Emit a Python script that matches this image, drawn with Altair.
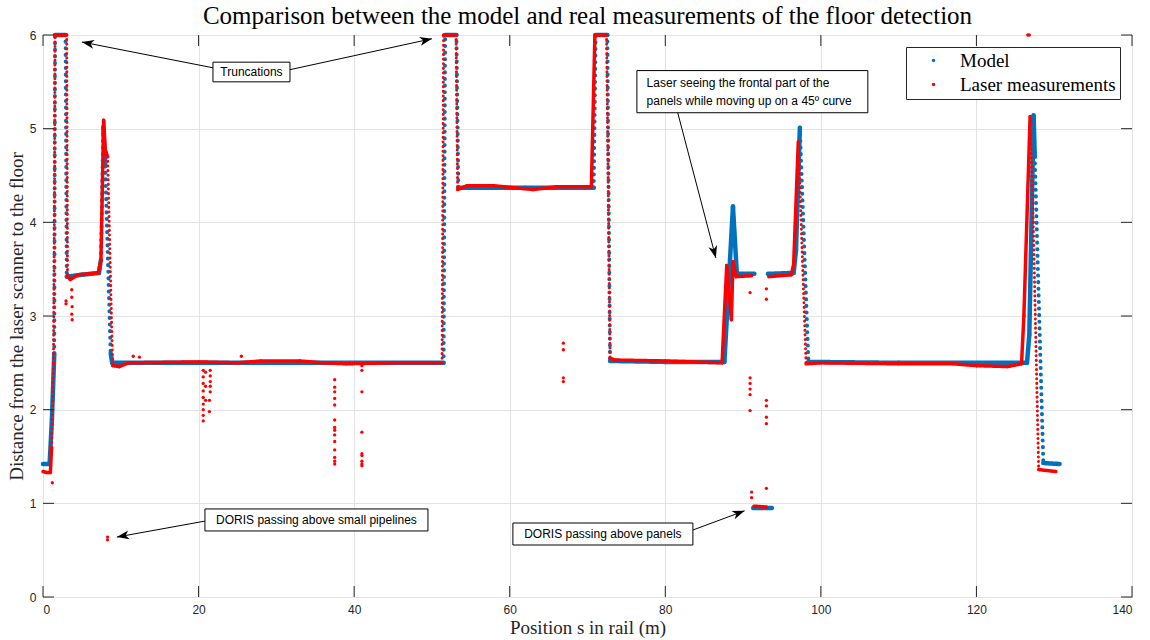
import math
import altair as alt
import pandas as pd

# ---------------- data ----------------
# Model (blue): breakpoints (position s in m, distance in m), three pieces
model_s_a = [0, 0.85, 1.15, 1.45, 1.55, 2.9, 3.05, 5.0, 7.2, 7.45, 7.75, 8.0, 8.7, 8.9,
             30.0, 51.5, 51.7, 53.15, 53.4, 62.0, 70.8, 71.05, 72.55, 72.9, 80.0,
             87.6, 88.7, 89.2, 91.45]
model_v_a = [1.42, 1.42, 1.9, 2.6, 6.0, 6.0, 3.42, 3.44, 3.46, 3.6, 5.02, 4.6, 2.6, 2.5,
             2.5, 2.5, 6.0, 6.0, 4.37, 4.37, 4.37, 6.0, 6.0, 2.52, 2.51,
             2.51, 4.17, 3.45, 3.45]
model_s_b = [91.3, 93.7]
model_v_b = [0.95, 0.95]
model_s_c = [93.2, 96.5, 96.8, 97.3, 98.4, 110.0, 126.5, 126.8, 127.35, 127.5, 128.6, 130.7]
model_v_c = [3.45, 3.46, 3.7, 5.01, 2.51, 2.5, 2.5, 2.8, 5.14, 4.7, 1.43, 1.42]

# Laser measurements (red): breakpoints, three pieces
laser_s_a = [0, 0.4, 0.95, 1.1, 1.35, 1.5, 1.55, 3.05, 3.15, 3.5,
             4.5, 7.1, 7.45, 7.8, 8.0, 8.3, 8.95, 9.8, 11.0, 20.0,
             25.0, 28.0, 33.0, 36.0, 39.0, 45.0, 51.3, 51.5, 53.1, 53.3,
             54.5, 58.0, 60.5, 63.0, 66.0, 70.5, 70.95, 72.45, 72.9, 73.5,
             80.0, 87.3, 87.9, 88.5, 88.7, 89.1, 91.1]
laser_v_a = [1.34, 1.33, 1.33, 1.6, 2.5, 4.55, 6.0, 6.0, 3.42, 3.39,
             3.44, 3.46, 3.6, 5.09, 4.78, 4.7, 2.47, 2.46, 2.5, 2.51,
             2.5, 2.52, 2.52, 2.5, 2.49, 2.5, 2.5, 6.0, 6.0, 4.35,
             4.39, 4.39, 4.37, 4.35, 4.38, 4.38, 6.0, 6.0, 2.55, 2.53,
             2.52, 2.5, 3.54, 2.96, 3.58, 3.42, 3.43]
laser_s_b = [91.4, 93.0]
laser_v_b = [0.97, 0.96]
laser_s_c = [93.3, 96.2, 96.5, 97.1, 98.1, 100.0, 110.0, 117.0, 120.0, 124.0,
             125.8, 126.1, 126.9, 127.3, 128.0, 130.2]
laser_v_c = [3.42, 3.44, 3.55, 4.86, 2.49, 2.5, 2.49, 2.49, 2.47, 2.46,
             2.49, 3.0, 5.13, 4.0, 1.36, 1.34]

# Isolated laser points (outliers)
laser_dots_s = [1.2, 2.96, 2.96, 3.7, 3.7, 3.75, 3.7, 3.75, 8.3, 8.3,
                11.6, 12.4, 25.5,
                20.6, 20.6, 20.6, 20.6, 20.6, 20.6, 20.6, 20.6, 20.6,
                20.9, 20.9, 20.9,
                21.5, 21.5, 21.5, 21.5, 21.5, 21.4, 21.4,
                37.5, 37.5, 37.5, 37.5, 37.5, 37.5, 37.5, 37.5, 37.5, 37.5, 37.5, 37.5, 37.5, 37.5,
                41.0, 41.0, 41.0, 41.0, 41.0, 41.0, 41.0, 41.0, 41.0,
                66.9, 66.9, 66.9, 66.9,
                90.9, 90.9, 90.9, 90.9, 90.9, 90.9, 91.1, 91.1,
                93.0, 93.0, 93.0, 93.0, 93.0, 93.0, 93.0,
                126.6, 126.8]
laser_dots_v = [1.22, 3.13, 3.16, 3.28, 3.2, 3.1, 3.02, 2.96, 0.64, 0.61,
                2.57, 2.56, 2.57,
                2.42, 2.35, 2.28, 2.2, 2.13, 2.06, 2.0, 1.94, 1.88,
                2.4, 2.25, 2.1,
                2.42, 2.36, 2.3, 2.25, 2.19, 2.1, 1.98,
                2.32, 2.24, 2.19, 2.12, 2.05, 1.89, 1.81, 1.78, 1.73, 1.66, 1.57, 1.49, 1.45, 1.42,
                2.47, 2.42, 2.19, 1.76, 1.53, 1.51, 1.45, 1.42, 1.40,
                2.71, 2.64, 2.34, 2.30,
                3.25, 2.34, 2.28, 2.22, 2.16, 1.99, 1.12, 1.06,
                3.29, 3.18, 2.10, 2.04, 1.92, 1.85, 1.16,
                6.0, 6.0]

series_names = ["Model", "Laser measurements"]
x_ticks = [0, 20, 40, 60, 80, 100, 120, 140]
y_ticks = [0, 1, 2, 3, 4, 5, 6]

# Annotations: text, box extents (s, s2, v, v2), text anchor, arrows
ann_text = ["Truncations", "DORIS passing above small pipelines", "DORIS passing above panels",
            "Laser seeing the frontal part of the\npanels while moving up on a 45º curve"]
ann_box_s = [21.85, 20.82, 60.41, 76.35]
ann_box_s2 = [31.75, 49.49, 83.55, 106.04]
ann_box_v = [5.50, 0.705, 0.555, 5.17]
ann_box_v2 = [5.71, 0.94, 0.79, 5.62]
ann_text_s = [26.8, 35.15, 71.98, 77.6]
ann_text_v = [5.605, 0.8225, 0.6725, 5.49]
ann_align = ["center", "center", "center", "left"]

arrow_from_s = [21.85, 31.75, 20.8, 83.55, 81.6]
arrow_from_v = [5.65, 5.63, 0.81, 0.715, 5.17]
arrow_to_s = [5.0, 50.0, 9.5, 90.2, 86.5]
arrow_to_v = [5.925, 5.96, 0.64, 0.92, 3.62]

# ---------------- styling ----------------
BLUE = "#0072BD"
RED = "#FF0000"
AXC = "#262626"
W, H = 1089, 562
S_MAX, V_MAX = 140, 6
SERIF = "Liberation Serif"
SANS = "Liberation Sans"

XS = alt.Scale(domain=[0, S_MAX], nice=False, zero=False)
YS = alt.Scale(domain=[0, V_MAX], nice=False, zero=False)

X_AX = alt.Axis(values=x_ticks, grid=True, gridColor="#E3E3E3", gridWidth=1, tickSize=0,
                domain=False, labelFont=SANS, labelFontSize=12, labelColor=AXC, labelPadding=7,
                title="Position s in rail (m)", titleFont=SERIF, titleFontSize=19,
                titleFontWeight="normal", titleColor=AXC, titlePadding=3)
Y_AX = alt.Axis(values=y_ticks, grid=True, gridColor="#E3E3E3", gridWidth=1, tickSize=0,
                domain=False, labelFont=SANS, labelFontSize=12, labelColor=AXC, labelPadding=7,
                title="Distance from the laser scanner to the floor", titleFont=SERIF,
                titleFontSize=19, titleFontWeight="normal", titleColor=AXC, titlePadding=3)


def build_segments(pieces, tag):
    rows = []
    for s_list, v_list in pieces:
        for i in range(len(s_list) - 1):
            s0, s1 = s_list[i], s_list[i + 1]
            v0, v1 = v_list[i], v_list[i + 1]
            dyp = abs(v1 - v0) * H / V_MAX
            dotted = dyp > 80 and (v1 < v0 or abs(s1 - s0) < 0.3)
            rows.append({"s": s0, "v": v0, "s2": s1, "v2": v1,
                         "style": ("dot_" if dotted else "solid_") + tag})
    return pd.DataFrame(rows)


model_df = build_segments([(model_s_a, model_v_a), (model_s_b, model_v_b),
                           (model_s_c, model_v_c)], "m")
laser_df = build_segments([(laser_s_a, laser_v_a), (laser_s_b, laser_v_b),
                           (laser_s_c, laser_v_c)], "l")

STYLE_DOM = ["solid_m", "dot_m", "solid_l", "dot_l"]
WIDTH_SC = alt.Scale(domain=STYLE_DOM, range=[4.5, 3, 4, 3.2])
DASH_SC = alt.Scale(domain=STYLE_DOM, range=[[1, 0], [0.1, 6.5], [1, 0], [0.1, 4.5]])


def trace(df, color):
    return alt.Chart(df).mark_rule(color=color, strokeCap="round").encode(
        x=alt.X("s:Q", scale=XS, axis=X_AX), x2="s2:Q",
        y=alt.Y("v:Q", scale=YS, axis=Y_AX), y2="v2:Q",
        strokeWidth=alt.StrokeWidth("style:N", scale=WIDTH_SC, legend=None),
        strokeDash=alt.StrokeDash("style:N", scale=DASH_SC, legend=None),
    )


dots_df = pd.DataFrame({"s": laser_dots_s, "v": laser_dots_v,
                        "series": ["Laser measurements"] * len(laser_dots_s)})
dots = alt.Chart(dots_df).mark_circle(size=11, opacity=1).encode(
    x=alt.X("s:Q", scale=XS, axis=X_AX),
    y=alt.Y("v:Q", scale=YS, axis=Y_AX),
    color=alt.Color("series:N", scale=alt.Scale(domain=series_names, range=[BLUE, RED]),
                    legend=alt.Legend(title=None, orient="top-right", offset=12,
                                      labelFont=SERIF, labelFontSize=19, labelColor="#000",
                                      symbolType="circle", symbolSize=12,
                                      symbolOffset=14, labelOffset=17,
                                      padding=4, rowPadding=4,
                                      strokeColor=AXC, fillColor="white",
                                      labelLimit=400)),
)

# inward tick marks on all four sides
xt_df = pd.DataFrame({"s": x_ticks})
yt_df = pd.DataFrame({"v": y_ticks})
TL = 11
ticks = [
    alt.Chart(xt_df).mark_rule(color=AXC, strokeWidth=1).encode(
        x=alt.X("s:Q", scale=XS, axis=X_AX), y=alt.value(H), y2=alt.value(H - TL)),
    alt.Chart(xt_df).mark_rule(color=AXC, strokeWidth=1).encode(
        x=alt.X("s:Q", scale=XS, axis=X_AX), y=alt.value(0), y2=alt.value(TL)),
    alt.Chart(yt_df).mark_rule(color=AXC, strokeWidth=1).encode(
        y=alt.Y("v:Q", scale=YS, axis=Y_AX), x=alt.value(0), x2=alt.value(TL)),
    alt.Chart(yt_df).mark_rule(color=AXC, strokeWidth=1).encode(
        y=alt.Y("v:Q", scale=YS, axis=Y_AX), x=alt.value(W), x2=alt.value(W - TL)),
]

# annotations
box_df = pd.DataFrame({"s": ann_box_s, "s2": ann_box_s2, "v": ann_box_v, "v2": ann_box_v2})
boxes = alt.Chart(box_df).mark_rect(fill="white", stroke="black", strokeWidth=1).encode(
    x=alt.X("s:Q", scale=XS, axis=X_AX), x2="s2:Q",
    y=alt.Y("v:Q", scale=YS, axis=Y_AX), y2="v2:Q")

texts = []
for t, ts, tv, al in zip(ann_text, ann_text_s, ann_text_v, ann_align):
    tdf = pd.DataFrame({"s": [ts], "v": [tv], "t": [t]})
    texts.append(alt.Chart(tdf).mark_text(font=SANS, fontSize=12, color="black", align=al,
                                          baseline="middle", lineBreak="\n", lineHeight=18).encode(
        x=alt.X("s:Q", scale=XS, axis=X_AX), y=alt.Y("v:Q", scale=YS, axis=Y_AX), text="t:N"))

px_s = W / S_MAX
px_v = H / V_MAX
angles = []
for fs, fv, ts, tv in zip(arrow_from_s, arrow_from_v, arrow_to_s, arrow_to_v):
    dx = (ts - fs) * px_s
    dy = -(tv - fv) * px_v
    angles.append(math.degrees(math.atan2(dy, dx)) % 360)
arr_df = pd.DataFrame({"s": arrow_from_s, "v": arrow_from_v, "s2": arrow_to_s, "v2": arrow_to_v,
                       "ang": angles})
shafts = alt.Chart(arr_df).mark_rule(color="black", strokeWidth=1).encode(
    x=alt.X("s:Q", scale=XS, axis=X_AX), x2="s2:Q",
    y=alt.Y("v:Q", scale=YS, axis=Y_AX), y2="v2:Q")
heads = alt.Chart(arr_df).mark_point(shape="M0,0L-1,-0.36L-0.72,0L-1,0.36Z", filled=True,
                                     size=600, color="black", opacity=1).encode(
    x=alt.X("s2:Q", scale=XS, axis=X_AX),
    y=alt.Y("v2:Q", scale=YS, axis=Y_AX),
    angle=alt.Angle("ang:Q", scale=None))

chart = alt.layer(
    trace(model_df, BLUE), trace(laser_df, RED), dots, *ticks,
    shafts, heads, boxes, *texts,
).properties(
    width=W, height=H,
    autosize=alt.AutoSizeParams(type="none"),
    padding={"left": 43, "top": 35, "right": 18, "bottom": 43},
    title=alt.TitleParams(text="Comparison between the model and real measurements of the floor detection",
                          font=SERIF, fontSize=25, fontWeight="normal", color="black",
                          anchor="middle", offset=0),
).configure_view(stroke=AXC, strokeWidth=1)

chart.save("out.html", embed_options={"renderer": "svg", "actions": False})
